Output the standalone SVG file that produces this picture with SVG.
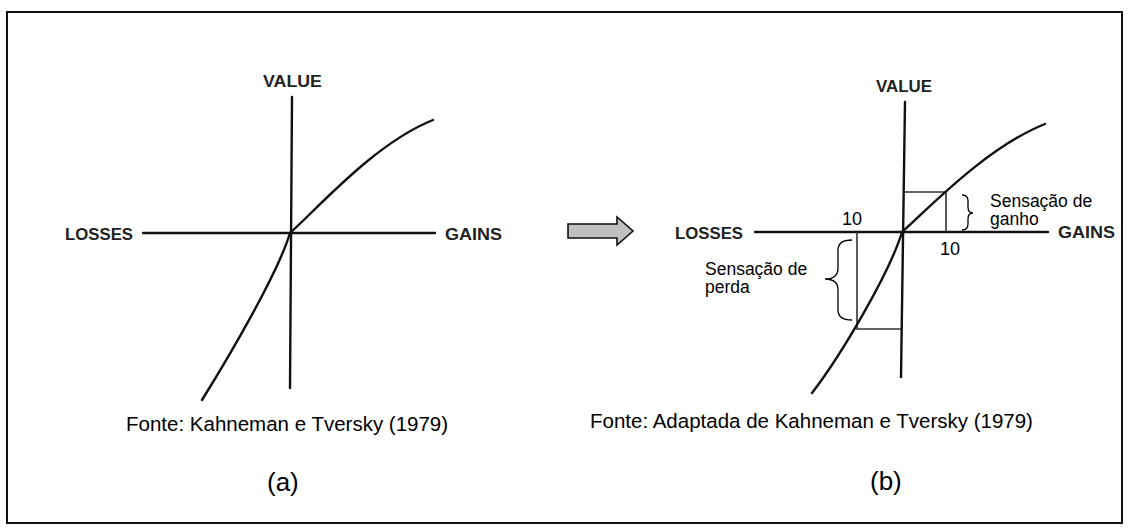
<svg xmlns="http://www.w3.org/2000/svg" width="1130" height="530" viewBox="0 0 1130 530">
<style>
.axis{stroke:#111;stroke-width:2.4;fill:none;stroke-linecap:round}
.curve{stroke:#111;stroke-width:2.4;fill:none;stroke-linecap:round}
.thin{stroke:#333;stroke-width:1.6;fill:none}
.brace{stroke:#000;stroke-width:1.3;fill:none}
.lab{font-family:"Liberation Sans",Arial,sans-serif;font-weight:bold;font-size:16.5px;fill:#222}
.txt{font-family:"Liberation Sans",Arial,sans-serif;fill:#000}
</style>
<rect x="7" y="12" width="1115" height="511" fill="#fff" stroke="#111" stroke-width="2"/>
<g id="graph-a">
<line class="axis" x1="292" y1="97" x2="290" y2="388"/>
<line class="axis" x1="143" y1="233" x2="435" y2="233"/>
<path class="curve" d="M202,400 C230,355 278,273 290,233 C318,208 375,143 433,120"/>
<text class="lab" x="263" y="87" textLength="59" lengthAdjust="spacingAndGlyphs">VALUE</text>
<text class="lab" x="65" y="240" textLength="68" lengthAdjust="spacingAndGlyphs">LOSSES</text>
<text class="lab" x="445" y="240" textLength="57" lengthAdjust="spacingAndGlyphs">GAINS</text>
<text class="txt" x="126" y="431" font-size="20.5">Fonte: Kahneman e Tversky (1979)</text>
<text class="txt" x="267" y="491" font-size="26">(a)</text>
</g>
<g id="arrow">
<polygon points="568,224 617,224 617,217 633,231 617,245 617,238 568,238" fill="#c0c0c0" stroke="#111" stroke-width="1.6" stroke-linejoin="miter"/>
</g>
<g id="graph-b">
<line class="axis" x1="905" y1="102" x2="901" y2="377"/>
<line class="axis" x1="755" y1="232" x2="1048" y2="232"/>
<g class="connectors">
<polyline class="thin" points="905,192 946,192 946,232"/>
<polyline class="thin" points="857,232 857,329 901,329"/>
</g>
<path class="curve" d="M812,393 C842,354 890,272 902,232 C930,207 987,147 1045,124"/>
<text class="lab" x="876" y="92" textLength="56" lengthAdjust="spacingAndGlyphs">VALUE</text>
<text class="lab" x="675" y="239" textLength="68" lengthAdjust="spacingAndGlyphs">LOSSES</text>
<text class="lab" x="1058" y="238" textLength="57" lengthAdjust="spacingAndGlyphs">GAINS</text>
<text class="txt" x="842" y="225" font-size="18">10</text>
<text class="txt" x="940" y="255" font-size="18">10</text>
<path class="brace" d="M962,195 Q968,195 968,201 L968,207 Q968,213 973,213 Q968,213 968,219 L968,224 Q968,230 962,230"/>
<path class="brace" d="M852,240 Q838,240 838,250 L838,268 Q838,279 825,279 Q838,279 838,290 L838,310 Q838,320 852,320"/>
<text class="txt" x="990" y="207" font-size="17.5">Sensação de</text>
<text class="txt" x="990" y="225" font-size="17.5">ganho</text>
<text class="txt" x="705" y="275" font-size="17.5">Sensação de</text>
<text class="txt" x="705" y="293" font-size="17.5">perda</text>
<text class="txt" x="590" y="428" font-size="20.5">Fonte: Adaptada de Kahneman e Tversky (1979)</text>
<text class="txt" x="870" y="490" font-size="26">(b)</text>
</g>
</svg>
